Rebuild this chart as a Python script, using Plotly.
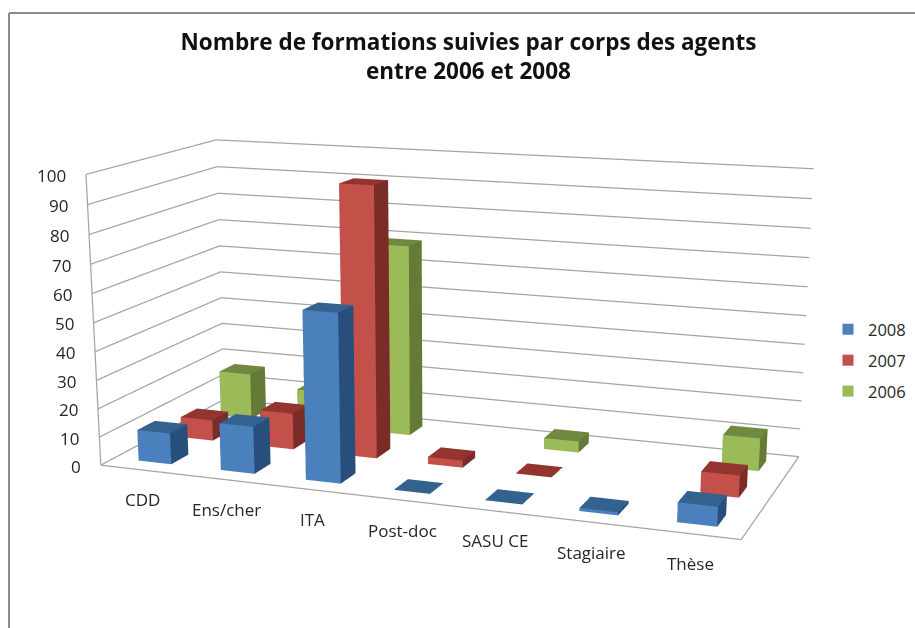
import plotly.graph_objects as go

categories = ["CDD", "Ens/cher", "ITA", "Post-doc", "SASU CE", "Stagiaire", "Thèse"]
series_names = ["2008", "2007", "2006"]
values_2008 = [11, 16.5, 58, 0, 0, 1, 6.5]
values_2007 = [7.5, 13, 95, 2.5, 0, None, 7.5]
values_2006 = [17, 13, 69, None, 4, None, 11.5]
all_values = [values_2008, values_2007, values_2006]
z_ticks = list(range(0, 101, 10))

front_colors = ["#4A81BD", "#C4504A", "#9BBB58"]
side_colors = ["#284F7B", "#792C28", "#667A38"]
top_colors = ["#33628F", "#93342F", "#70883F"]
GRID = "#a4a4a4"
TEXT = "#262626"
HALF_W = 0.2
HALF_D = 0.2
n = len(categories)
ns = len(series_names)

# Oblique view of the chart box, as in the original 3-D column chart:
# rows map (category, series, value, 1), each scaled to 0..1, to scene x, y, z.
VIEW_X = (2.44095, 0.37871, 0.00183, -1.43341)
VIEW_Y = (-0.35386, 0.38654, -0.12477, 0.04604)
VIEW_Z = (-0.19385, 0.22183, 1.14532, -0.60736)


def to_scene(x, y, z):
    u = (x / n, y / ns, z / 100, 1.0)
    return tuple(sum(a * b for a, b in zip(row, u)) for row in (VIEW_X, VIEW_Y, VIEW_Z))


def polyline(points):
    xs, ys, zs = [], [], []
    for pt in points:
        a, b, c = (None, None, None) if pt is None else to_scene(*pt)
        xs.append(a)
        ys.append(b)
        zs.append(c)
    return xs, ys, zs


FACE_I = [0, 0, 1, 1, 4, 4, 3, 3, 0, 0]
FACE_J = [1, 5, 2, 6, 5, 6, 2, 6, 3, 7]
FACE_K = [5, 4, 6, 5, 6, 7, 6, 7, 7, 4]

fig = go.Figure()

pts = []
for tick in z_ticks:
    pts += [(0, 0, tick), (0, ns, tick), (n, ns, tick), None]
pts += [(0, 0, 0), (n, 0, 0), (n, ns, 0), None, (0, 0, 0), (0, 0, 100), None]
lx, ly, lz = polyline(pts)
fig.add_trace(go.Scatter3d(x=lx, y=ly, z=lz, mode="lines", line=dict(color=GRID, width=2.5),
                           hoverinfo="skip", showlegend=False))

for s, name in enumerate(series_names):
    for c in range(n):
        v = all_values[s][c]
        if v is None:
            continue
        x0, x1 = c + 0.5 - HALF_W, c + 0.5 + HALF_W
        y0, y1 = s + 0.5 - HALF_D, s + 0.5 + HALF_D
        corners = [(x0, y0, 0), (x1, y0, 0), (x1, y1, 0), (x0, y1, 0),
                   (x0, y0, v), (x1, y0, v), (x1, y1, v), (x0, y1, v)]
        xs, ys, zs = polyline(corners)
        colors = ([front_colors[s]] * 2 + [side_colors[s]] * 2 + [top_colors[s]] * 2 +
                  [side_colors[s]] * 2 + [side_colors[s]] * 2)
        fig.add_trace(go.Mesh3d(x=xs, y=ys, z=zs, i=FACE_I, j=FACE_J, k=FACE_K, facecolor=colors,
                                flatshading=True,
                                lighting=dict(ambient=1, diffuse=0, specular=0, roughness=1, fresnel=0),
                                hoverinfo="skip", showlegend=False))

for s, name in enumerate(series_names):
    fig.add_trace(go.Scatter3d(x=[None], y=[None], z=[None], mode="markers", name=name,
                               legendgroup=name,
                               marker=dict(symbol="square", size=11, color=front_colors[s])))

annotations = []
for tick in z_ticks:
    a, b, c = to_scene(0, 0, tick)
    annotations.append(dict(x=a, y=b, z=c, text=str(tick), showarrow=False, xanchor="right",
                            xshift=-18, yshift=-1, font=dict(size=17, color=TEXT, family="Open Sans")))
for i_c, cat in enumerate(categories):
    a, b, c = to_scene(i_c + 0.5, 0, 0)
    annotations.append(dict(x=a, y=b, z=c, text=cat, showarrow=False, yshift=-30, xshift=1,
                            font=dict(size=17, color=TEXT, family="Open Sans")))

hide = dict(visible=False, showgrid=False, showbackground=False, zeroline=False, range=[-4, 4])
fig.update_layout(
    width=915, height=628, margin=dict(l=0, r=0, t=0, b=0),
    paper_bgcolor="white",
    title=dict(text="Nombre de formations suivies par corps des agents<br>entre 2006 et 2008",
               x=0.512, xanchor="center", y=0.921, yanchor="top",
               font=dict(size=22.5, color="#111111", family="Open Sans", weight="bold")),
    legend=dict(x=838/915, y=1-312/628, xanchor="left", yanchor="top", tracegroupgap=6.5,
                indentation=-10,
                font=dict(size=16.5, color=TEXT, family="Open Sans")),
    shapes=[dict(type="line", xref="paper", yref="paper", x0=9/915, x1=9/915, y0=0, y1=1-13/628,
                 line=dict(color="#8c8c8c", width=2)),
            dict(type="line", xref="paper", yref="paper", x0=9/915, x1=1, y0=1-13/628, y1=1-13/628,
                 line=dict(color="#8c8c8c", width=2))],
    scene=dict(
        domain=dict(x=[0, 1], y=[0, 1]),
        xaxis=hide, yaxis=hide, zaxis=hide,
        aspectmode="manual", aspectratio=dict(x=8, y=8, z=8),
        camera=dict(eye=dict(x=0, y=-3, z=0), center=dict(x=0, y=0, z=0), up=dict(x=0, y=0, z=1)),
        annotations=annotations,
    ),
)
fig.write_html("out.html", post_script="document.body.style.margin='0';",
               config={"displayModeBar": False})
